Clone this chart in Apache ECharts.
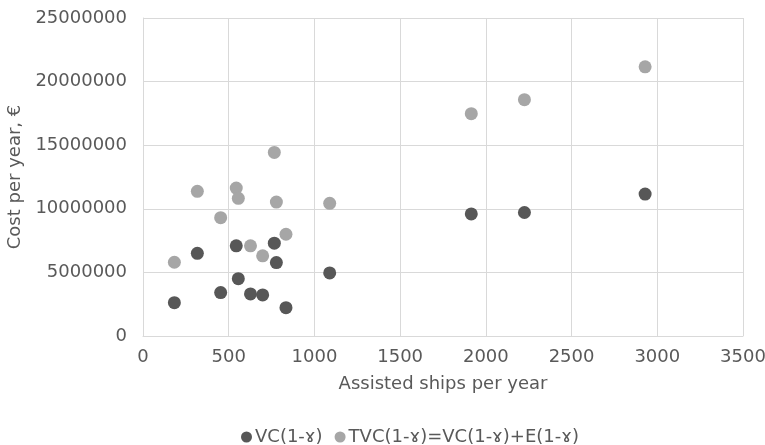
<!DOCTYPE html>
<html>
<head>
<meta charset="utf-8">
<script src="https://cdn.jsdelivr.net/npm/echarts@6/dist/echarts.min.js"></script>
<style>
html,body{margin:0;padding:0;background:#fff;}
#chart{width:765px;height:445px;}
</style>
</head>
<body>
<div id="chart"></div>
<script>
// Assisted ships per year (shared x values)
var ships = [183, 317, 453, 544, 556, 627, 698, 766, 778, 834, 1089, 1915, 2225, 2929];
// VC(1-ɤ), € per year
var vc = [2620000, 6500000, 3410000, 7090000, 4510000, 3310000, 3230000, 7300000, 5770000, 2230000, 4960000, 9600000, 9710000, 11160000];
// TVC(1-ɤ)=VC(1-ɤ)+E(1-ɤ), € per year
var tvc = [5800000, 11370000, 9300000, 11630000, 10820000, 7090000, 6300000, 14430000, 10530000, 8000000, 10430000, 17480000, 18580000, 21160000];
var seriesNames = ['VC(1-ɤ)', 'TVC(1-ɤ)=VC(1-ɤ)+E(1-ɤ)'];
var xTitle = 'Assisted ships per year';
var yTitle = 'Cost per year, €';

function pairs(xs, ys) {
  return xs.map(function (x, i) { return [x, ys[i]]; });
}
function plain(v) { return String(v); }

var textColor = '#595959';
var gridColor = '#d9d9d9';
var font = 'DejaVu Sans';

var chart = echarts.init(document.getElementById('chart'), null, {renderer: 'canvas'});
chart.setOption({
  animation: false,
  backgroundColor: '#ffffff',
  grid: {left: 143, right: 22, top: 18, bottom: 109, containLabel: false, outerBoundsMode: 'none'},
  xAxis: {
    type: 'value', min: 0, max: 3500, interval: 500,
    name: xTitle, nameLocation: 'middle', nameGap: 39,
    nameTextStyle: {color: textColor, fontFamily: font, fontSize: 18},
    axisLine: {show: true, lineStyle: {color: gridColor, width: 1}},
    axisTick: {show: false},
    axisLabel: {color: textColor, fontFamily: font, fontSize: 18, margin: 12, formatter: plain},
    splitLine: {show: true, lineStyle: {color: gridColor, width: 1}}
  },
  yAxis: {
    type: 'value', min: 0, max: 25000000, interval: 5000000,
    name: yTitle, nameLocation: 'middle', nameGap: 114, nameRotate: 90,
    nameTextStyle: {color: textColor, fontFamily: font, fontSize: 18},
    axisLine: {show: true, lineStyle: {color: gridColor, width: 1}},
    axisTick: {show: false},
    axisLabel: {color: textColor, fontFamily: font, fontSize: 18, margin: 16, formatter: plain},
    splitLine: {show: true, lineStyle: {color: gridColor, width: 1}}
  },
  legend: {
    left: 236, top: 423,
    itemWidth: 11, itemHeight: 11, itemGap: 12,
    icon: 'circle',
    textStyle: {color: textColor, fontFamily: font, fontSize: 18, padding: [0, 0, 0, -2]},
    data: seriesNames
  },
  series: [
    {
      name: seriesNames[0], type: 'scatter', symbol: 'circle', symbolSize: 13,
      itemStyle: {color: '#575757', opacity: 1},
      data: pairs(ships, vc), z: 3
    },
    {
      name: seriesNames[1], type: 'scatter', symbol: 'circle', symbolSize: 13,
      itemStyle: {color: '#a6a6a6', opacity: 1},
      data: pairs(ships, tvc), z: 2
    }
  ]
});
</script>
</body>
</html>
